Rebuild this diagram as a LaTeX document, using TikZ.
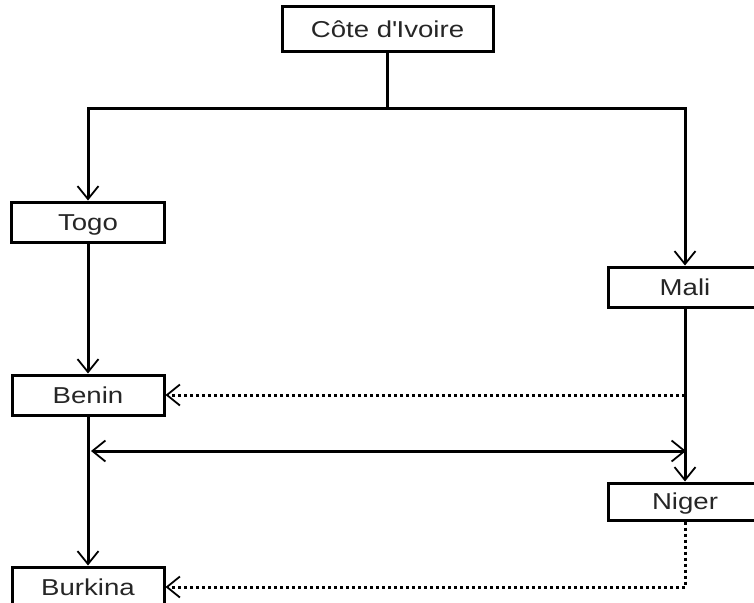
\documentclass[tikz,border=0pt]{standalone}
\usepackage{fontspec}
\setmainfont[FakeStretch=1.2]{Liberation Sans}
\usetikzlibrary{arrows.meta}
\tikzset{
  country/.style={draw, line width=3pt, fill=white, inner sep=0pt,
    minimum height=40pt, text height=16.5pt, text depth=0pt,
    text=black!85, font=\fontsize{23}{27}\selectfont},
  barb/.tip={Straight Barb[length=13pt,width=21pt,line width=1.8pt]},
  link/.style={line width=3pt, -barb},
  dotlink/.style={link, line width=3pt, dash pattern=on 3pt off 3pt}
}
\begin{document}
\begin{tikzpicture}[x=1pt,y=-1pt]
      \clip[use as bounding box] (0,0) rectangle (754,602);
      \draw
        (387.5,29.5) node[country, minimum width=211pt, minimum height=45pt] (civ){Côte d\textquotesingle Ivoire}
        (88,222) node[country, minimum width=153pt] (togo){Togo}
        (88,395) node[country, minimum width=152pt] (benin){Benin}
        (88,587) node[country, minimum width=152pt] (burkina){Burkina}
        (685,287) node[country, minimum width=154pt] (mali){Mali}
        (685,501.5) node[country, minimum width=154pt, minimum height=37pt] (niger){Niger};
      \coordinate (split) at (387.5,108);
      \coordinate (leftmid) at (91,451);
      \coordinate (rightmid) at (686,451);
      \begin{scope}[link]
        \draw (civ.south) -- (split) -| (togo.north);
        \draw (split) -| (mali.north);
        \draw (togo.south) -- (benin.north);
        \draw (benin.south) -- (burkina.north);
        \draw (mali.south) -- (niger.north);
        \draw[barb-barb] (leftmid) -- (rightmid);
        \draw[dotlink] (mali.south |- benin.east) -- (benin.east);
        \draw[dotlink] (niger.south) |- (burkina.east);
      \end{scope}
    \end{tikzpicture}
\end{document}
